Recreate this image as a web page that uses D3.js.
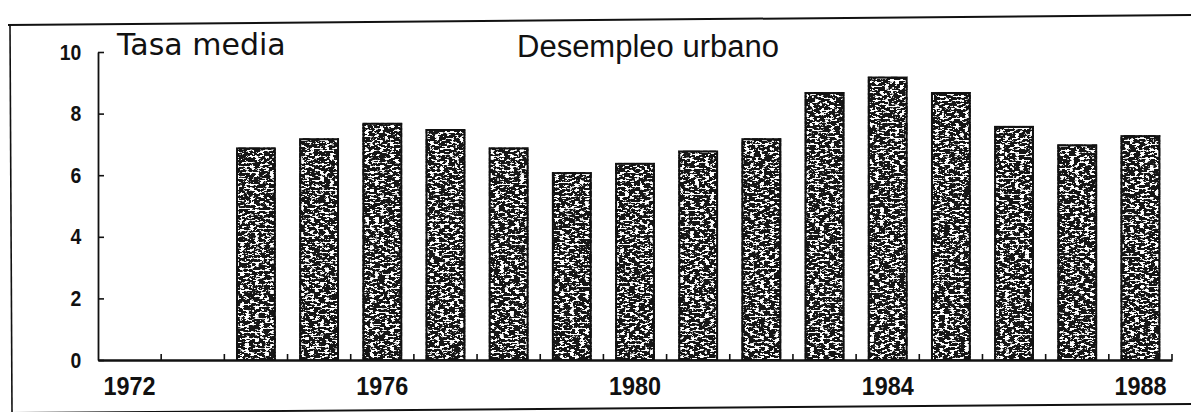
<!DOCTYPE html>
<html>
<head>
<meta charset="utf-8">
<script src="https://cdn.jsdelivr.net/npm/d3@7"></script>
<style>
  body { margin: 0; background: #fff; }
  svg { display: block; }
</style>
</head>
<body>
<div id="vis"></div>
<script>
const WIDTH = 1191;
const HEIGHT = 412;

// datos (tasa media de desempleo urbano, %)
const anios = d3.range(1972, 1989).map(String);
const aniosConDato = ["1974", "1975", "1976", "1977", "1978", "1979", "1980", "1981",
                      "1982", "1983", "1984", "1985", "1986", "1987", "1988"];
const tasas = [6.9, 7.2, 7.7, 7.5, 6.9, 6.1, 6.4, 6.8, 7.2, 8.7, 9.2, 8.7, 7.6, 7.0, 7.3];
const ticksY = [0, 2, 4, 6, 8, 10];
const etiquetasX = ["1972", "1976", "1980", "1984", "1988"];

const datos = aniosConDato.map((a, i) => ({ anio: a, tasa: tasas[i] }));

const SVG = d3.select("#vis").append("svg")
  .attr("width", WIDTH)
  .attr("height", HEIGHT);

// textura granulada tipo fotocopia para las barras
const defs = SVG.append("defs");
const filtro = defs.append("filter")
  .attr("id", "grano")
  .attr("x", 0).attr("y", 0).attr("width", 1).attr("height", 1);
filtro.append("feTurbulence")
  .attr("type", "fractalNoise")
  .attr("baseFrequency", "0.2 0.5")
  .attr("numOctaves", 4)
  .attr("seed", 11)
  .attr("result", "ruido");
filtro.append("feColorMatrix")
  .attr("in", "ruido")
  .attr("type", "matrix")
  .attr("values", "0 0 0 0 1  0 0 0 0 1  0 0 0 0 1  0 0 0 -16 7.7")
  .attr("result", "puntos");
filtro.append("feComposite")
  .attr("in", "puntos").attr("in2", "SourceGraphic")
  .attr("operator", "in").attr("result", "puntos2");
const merge = filtro.append("feMerge");
merge.append("feMergeNode").attr("in", "SourceGraphic");
merge.append("feMergeNode").attr("in", "puntos2");

// marco exterior (escaneo algo torcido)
SVG.append("path")
  .attr("d", "M8,25 L1191,15")
  .attr("stroke", "#111").attr("stroke-width", 2).attr("fill", "none");
SVG.append("path")
  .attr("d", "M10,25 L12,412")
  .attr("stroke", "#111").attr("stroke-width", 1.6).attr("fill", "none");
SVG.append("path")
  .attr("d", "M12,413 L1191,404")
  .attr("stroke", "#111").attr("stroke-width", 2).attr("fill", "none");

const x = d3.scaleBand()
  .domain(anios)
  .range([98, 1172])
  .paddingInner(0.37)
  .paddingOuter(0.185);

const y = d3.scaleLinear()
  .domain([0, 10])
  .range([360, 52]);

// barras
SVG.append("g")
  .selectAll("rect")
  .data(datos)
  .join("rect")
  .attr("x", d => x(d.anio))
  .attr("y", d => y(d.tasa))
  .attr("width", x.bandwidth())
  .attr("height", d => y(0) - y(d.tasa))
  .attr("fill", "#161616")
  .attr("filter", "url(#grano)");

SVG.append("g")
  .selectAll("rect")
  .data(datos)
  .join("rect")
  .attr("x", d => x(d.anio) + 1)
  .attr("y", d => y(d.tasa) + 1)
  .attr("width", x.bandwidth() - 2)
  .attr("height", d => y(0) - y(d.tasa) - 1)
  .attr("fill", "none")
  .attr("stroke", "#111")
  .attr("stroke-width", 2);

// eje Y
const ejeY = SVG.append("g")
  .attr("transform", "translate(98,0)")
  .call(d3.axisLeft(y).tickValues(ticksY).tickSize(-6).tickSizeOuter(0).tickPadding(19));
ejeY.select(".domain").attr("stroke", "#111").attr("stroke-width", 1.8);
ejeY.selectAll(".tick line").attr("stroke", "#111").attr("stroke-width", 1.6);
ejeY.selectAll(".tick text")
  .attr("fill", "#111")
  .attr("transform", "scale(0.88,1)")
  .style("font-family", "'Liberation Sans', Arial, sans-serif")
  .style("font-weight", "bold")
  .style("font-size", "22px");

// eje X
const ejeX = SVG.append("g")
  .attr("transform", `translate(0,${y(0)})`)
  .call(d3.axisBottom(x).tickValues(etiquetasX).tickSize(0).tickSizeOuter(0).tickPadding(17));
ejeX.select(".domain").attr("stroke", "#111").attr("stroke-width", 2.4);
ejeX.selectAll(".tick text")
  .attr("fill", "#111")
  .attr("transform", "scale(0.9,1)")
  .style("font-family", "'Liberation Sans', Arial, sans-serif")
  .style("font-weight", "bold")
  .style("font-size", "26px");

// marcas entre barras
const paso = x.step();
SVG.append("g")
  .selectAll("line")
  .data(anios)
  .join("line")
  .attr("x1", d => x(d) - paso * x.paddingOuter() + paso)
  .attr("x2", d => x(d) - paso * x.paddingOuter() + paso)
  .attr("y1", y(0))
  .attr("y2", y(0) - 6)
  .attr("stroke", "#111")
  .attr("stroke-width", 1.6);

// textos
SVG.append("text")
  .attr("x", 117)
  .attr("y", 55)
  .style("font-family", "'DejaVu Sans', sans-serif")
  .style("font-size", "30px")
  .attr("fill", "#111")
  .text("Tasa media");

SVG.append("text")
  .attr("x", 517)
  .attr("y", 57)
  .style("font-family", "'Liberation Sans', Arial, sans-serif")
  .style("font-size", "31px")
  .attr("fill", "#111")
  .text("Desempleo urbano");
</script>
</body>
</html>
